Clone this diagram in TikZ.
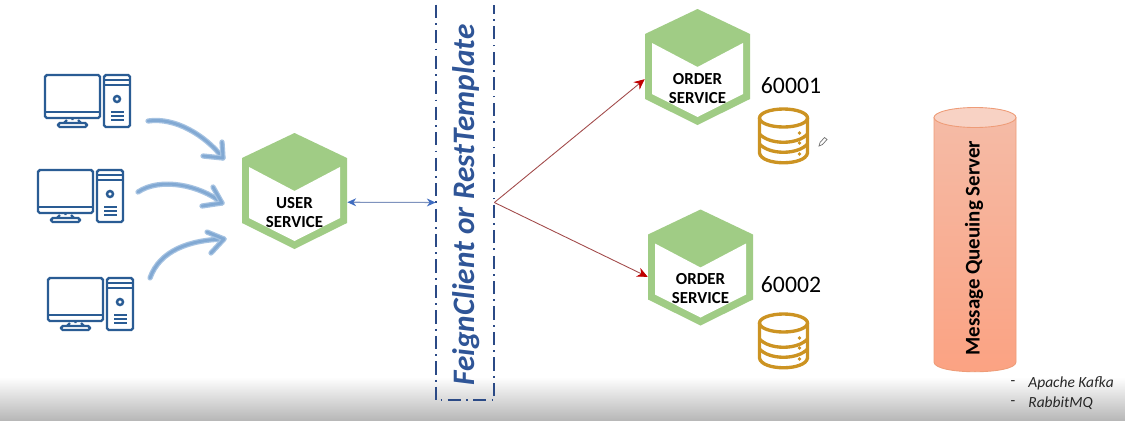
\documentclass[tikz,border=0pt]{standalone}
\usepackage{fontspec}
\setmainfont{Carlito}
\usetikzlibrary{arrows.meta}

\definecolor{hexGreen}{HTML}{A0CC85}
\definecolor{pcBlue}{HTML}{2A5C94}
\definecolor{brushPale}{HTML}{A6C3E2}
\definecolor{brushCore}{HTML}{82A9D3}
\definecolor{feignBlue}{HTML}{2F5597}
\definecolor{boxNavy}{HTML}{2B4A86}
\definecolor{dbGold}{HTML}{CC9322}
\definecolor{callRed}{HTML}{A24A4A}
\definecolor{tipRed}{HTML}{C00000}
\definecolor{linkBlue}{HTML}{7F93BE}
\definecolor{tipBlue}{HTML}{3F6CC0}
\definecolor{queueEdge}{HTML}{EE9C78}
\definecolor{queueTop}{HTML}{F5BBA6}
\definecolor{queueLow}{HTML}{FBA282}
\definecolor{queueCap}{HTML}{F8D2C4}

\tikzset{
  x=0.02cm, y=-0.02cm,
  svctext/.style={font=\bfseries\fontsize{9.6}{10.8}\selectfont, align=center, text=black, inner sep=0pt},
  porttext/.style={font=\fontsize{13.5}{16}\selectfont, text=black, inner sep=0pt},
  pcline/.style={draw=pcBlue, line width=1.4pt, rounded corners=1pt},
  dbline/.style={draw=dbGold, line width=1.9pt},
  brush/.style={draw=brushPale, line width=3pt, line cap=round, line join=round,
    postaction={draw=brushCore, line width=1.6pt}},
  redcall/.style={draw=callRed, line width=0.5pt, -{Stealth[length=6pt, width=5.5pt, color=tipRed]}},
  feignside/.style={draw=boxNavy, line width=1pt, dash pattern=on 7.5pt off 3pt on 1pt off 3pt},
  computer/.pic={
    \draw[pcline] (0,0) rectangle (55,43);
    \draw[pcline] (0,37) -- (55,37);
    \draw[pcline] (27.5,43) -- (27.5,45) (22,45) -- (19,48) (33,45) -- (36,48);
    \draw[pcline] (13,48) rectangle (42,52);
    \draw[pcline] (59,0) rectangle (85,52);
    \draw[pcline] (59,5) -- (85,5) (59,10) -- (85,10);
    \draw[pcline] (72,24) circle (3);
    \draw[pcline] (66,37) -- (79,37) (66,41) -- (79,41) (66,45) -- (79,45);
  },
  hexsvc/.pic={
    \fill[hexGreen] (0,-58) -- (52.5,-33) -- (52.5,32) -- (0,58) -- (-52.5,32) -- (-52.5,-33) -- cycle;
    \fill[white] (-45.5,-24) -- (0,0) -- (45.5,-24) -- (45.5,27) -- (0,50) -- (-45.5,27) -- cycle;
    \node[minimum width=2.1cm, minimum height=2.32cm, inner sep=0pt] (-box) at (0,0) {};
    \node[svctext] (-label) at (0,21.5) {#1\\SERVICE};
  },
  dbstack/.pic={
    \draw[dbline] (0,0) ellipse (24 and 9);
    \draw[dbline] (-24,0) -- (-24,35) .. controls (-22,48) and (22,48) .. (24,35) -- (24,0);
    \draw[dbline] (-24,16) .. controls (-14,27) and (14,27) .. (24,16);
    \draw[dbline] (-24,26) .. controls (-14,37) and (14,37) .. (24,26);
    \fill[dbGold] (16,15) circle (1.8) (16,25) circle (1.8) (16,36) circle (1.8);
  }
}

\begin{document}
\begin{tikzpicture}
    \useasboundingbox (0,0) rectangle (1125,420);
    % Fondo
    \fill[white] (0,0) rectangle (1125,420);
    \shade[top color=white, bottom color=black!28] (0,377) rectangle (1125,420);

    % Clientes
    \pic (pcA) at (45,75) {computer};
    \pic (pcB) at (38,170) {computer};
    \pic (pcC) at (48,278) {computer};

    % Servicios
    \pic (userSvc) at (294.5,191) {hexsvc=USER};
    \pic (orderA) at (697.5,67) {hexsvc=ORDER};
    \pic (orderB) at (700.5,267.5) {hexsvc=ORDER};

    % Trazos de pincel
    \coordinate (brushAs) at (148,121);
    \coordinate (brushAe) at (223,158);
    \coordinate (brushBs) at (138,192);
    \coordinate (brushBe) at (222,203);
    \coordinate (brushCs) at (150,278);
    \coordinate (brushCe) at (224,239);
    \draw[brush] (brushAs) .. controls (175,117) and (205,135) .. (brushAe);
    \draw[brush] (222,142) -- (brushAe) -- (203,156);
    \draw[brush] (brushBs) .. controls (160,177) and (200,185) .. (brushBe);
    \draw[brush] (213,187) -- (brushBe) -- (202,206);
    \draw[brush] (brushCs) .. controls (160,250) and (190,240) .. (brushCe);
    \draw[brush] (207,232) -- (brushCe) -- (211,253);

    % Caja de Feign
    \node[rotate=90, minimum width=7.9cm, minimum height=1.16cm, inner sep=0pt] (feignBox) at (465,202.5) {};
    \draw[feignside] (feignBox.north east) -- (feignBox.north west) -- (feignBox.south west) -- (feignBox.south east);
    \node[rotate=90, font=\bfseries\itshape\fontsize{17.8}{20}\selectfont, text=feignBlue, inner sep=0pt] (feignText) at (466,205) {FeignClient or RestTemplate};

    % Flechas
    \draw[draw=linkBlue, line width=0.6pt, {Stealth[length=5pt, width=4.5pt, color=tipBlue]}-{Stealth[length=5pt, width=4.5pt, color=tipBlue]}] (userSvc-box.-12) -- (feignBox.north);
    \draw[redcall] (feignBox.south) -- (orderA-box.193);
    \draw[redcall] (feignBox.south) -- (orderB-box.190);

    % Puertos y bases de datos
    \node[porttext] (portA) at (791,86) {60001};
    \node[porttext] (portB) at (791,285) {60002};
    \pic (dbA) at (783.5,118) {dbstack};
    \pic (dbB) at (783.5,323) {dbstack};

    % Lapiz
    \draw[black!55, line width=0.4pt, fill=white] (819,146) -- (820,142.5) -- (824.5,137.5) -- (827,139.5) -- (822.5,144.5) -- cycle;

    % Cola de mensajes
    \path[shade, top color=queueTop, bottom color=queueLow, draw=queueEdge, line width=0.5pt]
      (934,117.5) -- (934,362) .. controls (934,375) and (1016,375) .. (1016,362) -- (1016,117.5) -- cycle;
    \draw[draw=queueEdge, line width=0.5pt, fill=queueCap] (975,117.5) ellipse (41 and 10);
    \node[rotate=90, font=\bfseries\fontsize{11.9}{13}\selectfont, text=black, inner sep=0pt] (queueText) at (974,248) {Message Queuing Server};

    % Lista
    \node[font=\itshape\fontsize{8.8}{11}\selectfont, text=black!85, inner sep=0pt, anchor=west] (kafkaText) at (1028,383) {Apache Kafka};
    \node[font=\itshape\fontsize{8.8}{11}\selectfont, text=black!85, inner sep=0pt, anchor=west] (rabbitText) at (1028,403) {RabbitMQ};
    \node[font=\fontsize{8.8}{11}\selectfont, text=black!85, inner sep=0pt] (kafkaDash) at (1013,383) {-};
    \node[font=\fontsize{8.8}{11}\selectfont, text=black!85, inner sep=0pt] (rabbitDash) at (1013,403) {-};
\end{tikzpicture}
\end{document}
